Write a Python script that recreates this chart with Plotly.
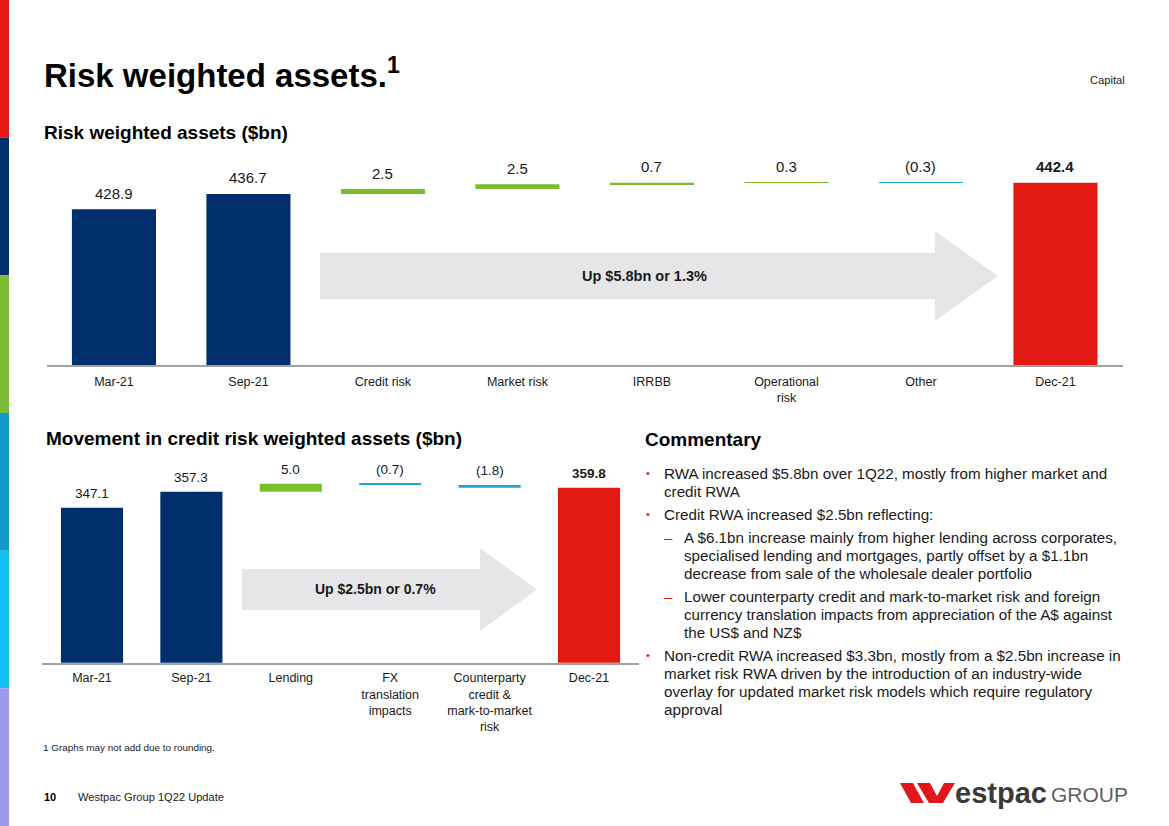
import plotly.graph_objects as go

W, H = 1169, 826
FONT = "Liberation Sans, Arial, Helvetica, sans-serif"

# ---------------- data ----------------
rwa_categories = ["Mar-21", "Sep-21", "Credit risk", "Market risk", "IRRBB",
                  "Operational<br>risk", "Other", "Dec-21"]
rwa_opening = [428.9, 436.7]            # Mar-21, Sep-21
rwa_movements = [2.5, 2.5, 0.7, 0.3, -0.3]
rwa_closing = 442.4                     # Dec-21

credit_categories = ["Mar-21", "Sep-21", "Lending", "FX<br>translation<br>impacts",
                     "Counterparty<br>credit &<br>mark-to-market<br>risk", "Dec-21"]
credit_opening = [347.1, 357.3]
credit_movements = [5.0, -0.7, -1.8]
credit_closing = 359.8

commentary_lines = [
    (0, True,  "RWA increased $5.8bn over 1Q22, mostly from higher market and"),
    (0, False, "credit RWA"),
    (0, True,  "Credit RWA increased $2.5bn reflecting:"),
    (1, True,  "A $6.1bn increase mainly from higher lending across corporates,"),
    (1, False, "specialised lending and mortgages, partly offset by a $1.1bn"),
    (1, False, "decrease from sale of the wholesale dealer portfolio"),
    (1, True,  "Lower counterparty credit and mark-to-market risk and foreign"),
    (1, False, "currency translation impacts from appreciation of the A$ against"),
    (1, False, "the US$ and NZ$"),
    (0, True,  "Non-credit RWA increased $3.3bn, mostly from a $2.5bn increase in"),
    (0, False, "market risk RWA driven by the introduction of an industry-wide"),
    (0, False, "overlay for updated market risk models which require regulatory"),
    (0, False, "approval"),
]
commentary_y = [473, 491, 514, 537, 555, 573, 596, 614, 632, 655, 673, 691, 709]

# ---------------- styles ----------------
NAVY = "#002F6C"
RED = "#E21A13"
GREEN = "#78BE2B"
BLUE = "#1CA4DE"
GREY_ARROW = "#E6E6E8"
TEXT = "#1A1A1A"


def px(x):
    return x / W


def py(y):
    return 1 - y / H


def fmt(v):
    return f"{v:.1f}" if v >= 0 else f"({abs(v):.1f})"


def build_waterfall(cats, opening, moves, closing, xa, ya, fsize, yshift):
    bases, heights, colors, labels = [], [], [], []
    for v in opening:
        bases.append(0)
        heights.append(v)
        colors.append(NAVY)
        labels.append(fmt(v))
    running = opening[-1]
    for m in moves:
        bases.append(running)
        heights.append(m)
        colors.append(GREEN if m > 0 else BLUE)
        labels.append(fmt(m))
        running += m
    bases.append(0)
    heights.append(closing)
    colors.append(RED)
    labels.append("<b>" + fmt(closing) + "</b>")
    trace = go.Bar(x=cats, y=heights, base=bases, width=0.625,
                   marker=dict(color=colors, line=dict(width=0)),
                   xaxis=xa, yaxis=ya, hoverinfo="skip", showlegend=False)
    anns = []
    for c, b, h, lab in zip(cats, bases, heights, labels):
        top = max(b, b + h)
        anns.append(dict(x=c, y=top, xref=xa, yref=ya,
                         text=lab, showarrow=False, yshift=yshift,
                         xanchor="center", yanchor="middle",
                         font=dict(family=FONT, size=fsize, color=TEXT)))
    return trace, anns


t1, a1 = build_waterfall(rwa_categories, rwa_opening, rwa_movements, rwa_closing,
                         "x", "y", 15, 16)
t2, a2 = build_waterfall(credit_categories, credit_opening, credit_movements,
                         credit_closing, "x2", "y2", 13.5, 14)

fig = go.Figure([t1, t2])

# ---------------- axes ----------------
axis_common = dict(type="category", showline=True, linecolor="#A3A3A3", linewidth=1.5,
                   ticks="", showgrid=False, zeroline=False, fixedrange=True,
                   tickfont=dict(family=FONT, size=12.5, color=TEXT))
fig.update_layout(
    xaxis=dict(domain=[px(46.7), px(1122.7)], anchor="y", ticklabelstandoff=4,
               **axis_common),
    yaxis=dict(domain=[py(365), py(150)], range=[349, 349 + 215 / 1.95],
               visible=False, fixedrange=True),
    xaxis2=dict(domain=[px(42.3), px(638.7)], anchor="y2", ticklabelstandoff=3,
                **axis_common),
    yaxis2=dict(domain=[py(662.7), py(460)], range=[248.7, 248.7 + 202.7 / 1.575],
                visible=False, fixedrange=True),
)

# ---------------- shapes ----------------
shapes = []
side_colors = ["#E31B13", "#002F6C", "#7CBB34", "#1299CC", "#10C0EE", "#9E97F2"]
seg = H / len(side_colors)
for i, c in enumerate(side_colors):
    shapes.append(dict(type="rect", xref="paper", yref="paper",
                       x0=0, x1=px(9), y0=py((i + 1) * seg), y1=py(i * seg),
                       fillcolor=c, line=dict(width=0), layer="below"))


def arrow_path(x0, x1, yt, yb, ht, hb, tip):
    ym = (ht + hb) / 2
    pts = [(x0, yt), (x1, yt), (x1, ht), (tip, ym), (x1, hb), (x1, yb), (x0, yb)]
    return "M " + " L ".join(f"{px(a):.5f},{py(b):.5f}" for a, b in pts) + " Z"


shapes.append(dict(type="path", xref="paper", yref="paper",
                   path=arrow_path(320, 935, 253, 299, 231, 321, 998),
                   fillcolor=GREY_ARROW, line=dict(width=0), layer="below"))
shapes.append(dict(type="path", xref="paper", yref="paper",
                   path=arrow_path(242, 480, 569, 610, 548, 631, 537),
                   fillcolor=GREY_ARROW, line=dict(width=0), layer="below"))


def poly(pts, color):
    return dict(type="path", xref="paper", yref="paper",
                path="M " + " L ".join(f"{px(a):.5f},{py(b):.5f}" for a, b in pts) + " Z",
                fillcolor=color, line=dict(width=0))


# Westpac "W" mark
shapes.append(poly([(900, 783), (913, 783), (924, 803), (911, 803)], "#E0181B"))
shapes.append(poly([(917, 783), (930, 783), (937, 796), (944, 783), (955, 783),
                    (943, 803), (929, 803)], "#E0181B"))

# ---------------- annotations ----------------
anns = a1 + a2


def txt(x, y, s, size, color=TEXT, bold=False, xanchor="left"):
    anns.append(dict(x=px(x), y=py(y), xref="paper", yref="paper",
                     text=("<b>" + s + "</b>") if bold else s, showarrow=False,
                     xanchor=xanchor, yanchor="middle",
                     font=dict(family=FONT, size=size, color=color)))


txt(42, 73, "Risk weighted assets.<sup>1</sup>", 33, "#000000", bold=True)
txt(1127, 80, "Capital", 11.2, TEXT, xanchor="right")
txt(42, 132, "Risk weighted assets ($bn)", 19, "#000000", bold=True)
txt(44, 438.5, "Movement in credit risk weighted assets ($bn)", 19, "#000000", bold=True)
txt(643, 439, "Commentary", 19, "#000000", bold=True)

txt(644, 276, "Up $5.8bn or 1.3%", 14.5, TEXT, bold=True, xanchor="center")
txt(375, 589, "Up $2.5bn or 0.7%", 14, TEXT, bold=True, xanchor="center")

for (lvl, marker, s), y in zip(commentary_lines, commentary_y):
    if lvl == 0:
        if marker:
            txt(648, y, "•", 11, "#E0181B", xanchor="center")
        txt(662, y, s, 15.2, TEXT)
    else:
        if marker:
            txt(668, y, "–", 15.2, "#E0181B", xanchor="center")
        txt(682, y, s, 15.2, TEXT)

txt(41, 747, "1 Graphs may not add due to rounding.", 9.9, TEXT)
txt(42, 797, "10", 11, "#000000", bold=True)
txt(76, 797, "Westpac Group 1Q22 Update", 11.1, TEXT)

txt(953, 793, "estpac", 29, "#3A3A3A", bold=True)
txt(1049, 794, "GROUP", 21, "#5F5F5F")

fig.update_layout(
    width=W, height=H, margin=dict(l=0, r=0, t=0, b=0),
    paper_bgcolor="white", plot_bgcolor="white",
    shapes=shapes, annotations=anns, showlegend=False, barmode="overlay",
)

fig.write_html("out.html", config={"displayModeBar": False},
               post_script="document.body.style.margin='0';document.body.style.padding='0';")
